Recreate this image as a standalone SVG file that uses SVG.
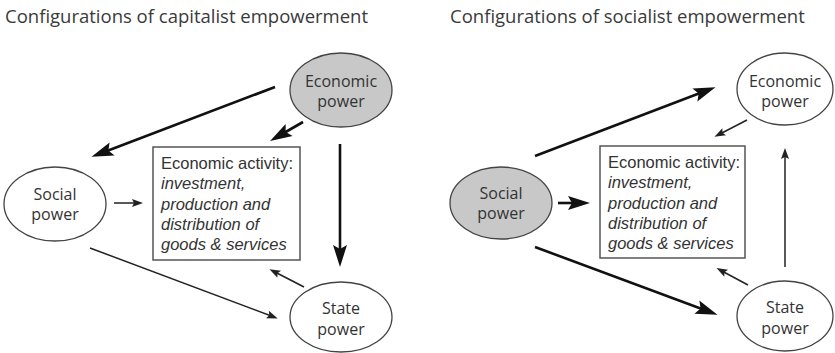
<svg xmlns="http://www.w3.org/2000/svg" width="835" height="353" viewBox="0 0 835 353">
<style>
  text { font-family: "Open Sans", "Liberation Sans", sans-serif; fill: #333; }
  .title { font-size: 18.5px; fill: #3a3a3a; }
  .lbl { font-size: 16px; text-anchor: middle; }
  .box { font-family: "Liberation Sans", Arial, sans-serif; font-size: 16.5px; }
  .it { font-style: italic; }
  .node { stroke: #444; stroke-width: 1.3; }
  .grey { fill: #c8c8c8; }
  .white { fill: #fff; }
  .rect { fill: #fff; stroke: #555; stroke-width: 1.5; }
  .thick { stroke: #111; stroke-width: 2.6; fill: none; marker-end: url(#big); }
  .thin { stroke: #222; stroke-width: 1.5; fill: none; marker-end: url(#small); }
</style>
<defs>
  <marker id="big" markerUnits="userSpaceOnUse" viewBox="-16 -8 26 16" refX="0" refY="0" markerWidth="26" markerHeight="16" orient="auto">
    <path d="M8,0 L-14,-7 L-10,0 L-14,7 Z" fill="#111"/>
  </marker>
  <marker id="small" markerUnits="userSpaceOnUse" viewBox="-8 -5 14 10" refX="0" refY="0" markerWidth="14" markerHeight="10" orient="auto">
    <path d="M4,0 L-7,-4 L-5,0 L-7,4 Z" fill="#222"/>
  </marker>
</defs>
<rect width="835" height="353" fill="#fff"/>

<text class="title" x="5" y="23">Configurations of capitalist empowerment</text>
<text class="title" x="450" y="23">Configurations of socialist empowerment</text>

<g id="connectors">
  <!-- left -->
  <line class="thick" x1="275" y1="87" x2="99" y2="154"/>
  <line class="thick" x1="303" y1="122" x2="277" y2="137"/>
  <line class="thick" x1="340" y1="144" x2="340" y2="259"/>
  <line class="thin" x1="114" y1="203" x2="139" y2="203"/>
  <line class="thin" x1="90" y1="248" x2="274" y2="317"/>
  <line class="thin" x1="304" y1="287" x2="273" y2="271"/>
  <!-- right -->
  <line class="thick" x1="535" y1="156" x2="708" y2="90"/>
  <line class="thin" x1="747" y1="120" x2="718" y2="135"/>
  <line class="thin" x1="785" y1="267" x2="785" y2="152"/>
  <line class="thick" x1="558" y1="203" x2="582" y2="203"/>
  <line class="thick" x1="535" y1="247" x2="710" y2="312"/>
  <line class="thin" x1="748" y1="285" x2="720" y2="270"/>
</g>

<g id="cap-economic">
  <ellipse class="node grey" cx="341" cy="90" rx="51" ry="37"/>
  <text class="lbl"><tspan x="341" y="87">Economic</tspan><tspan x="341" y="107">power</tspan></text>
</g>
<g id="cap-social">
  <ellipse class="node white" cx="55" cy="204" rx="51" ry="37"/>
  <text class="lbl"><tspan x="55" y="200">Social</tspan><tspan x="55" y="220">power</tspan></text>
</g>
<g id="cap-state">
  <ellipse class="node white" cx="341" cy="317" rx="51" ry="35"/>
  <text class="lbl"><tspan x="341" y="314">State</tspan><tspan x="341" y="335">power</tspan></text>
</g>
<g id="cap-activity">
  <rect class="rect" x="153" y="147" width="147" height="113"/>
  <text class="box"><tspan x="161" y="169">Economic activity:</tspan><tspan class="it" x="161" y="189">investment,</tspan><tspan class="it" x="161" y="210">production and</tspan><tspan class="it" x="161" y="230">distribution of</tspan><tspan class="it" x="161" y="250">goods &amp; services</tspan></text>
</g>

<g id="soc-economic">
  <ellipse class="node white" cx="785" cy="89" rx="48" ry="36"/>
  <text class="lbl"><tspan x="785" y="87">Economic</tspan><tspan x="785" y="107">power</tspan></text>
</g>
<g id="soc-social">
  <ellipse class="node grey" cx="501" cy="203" rx="51" ry="36"/>
  <text class="lbl"><tspan x="501" y="199">Social</tspan><tspan x="501" y="219">power</tspan></text>
</g>
<g id="soc-state">
  <ellipse class="node white" cx="785" cy="316" rx="48" ry="35"/>
  <text class="lbl"><tspan x="785" y="313">State</tspan><tspan x="785" y="334">power</tspan></text>
</g>
<g id="soc-activity">
  <rect class="rect" x="600" y="146" width="145" height="112"/>
  <text class="box"><tspan x="608" y="168">Economic activity:</tspan><tspan class="it" x="608" y="188">investment,</tspan><tspan class="it" x="608" y="209">production and</tspan><tspan class="it" x="608" y="229">distribution of</tspan><tspan class="it" x="608" y="249">goods &amp; services</tspan></text>
</g>
</svg>
